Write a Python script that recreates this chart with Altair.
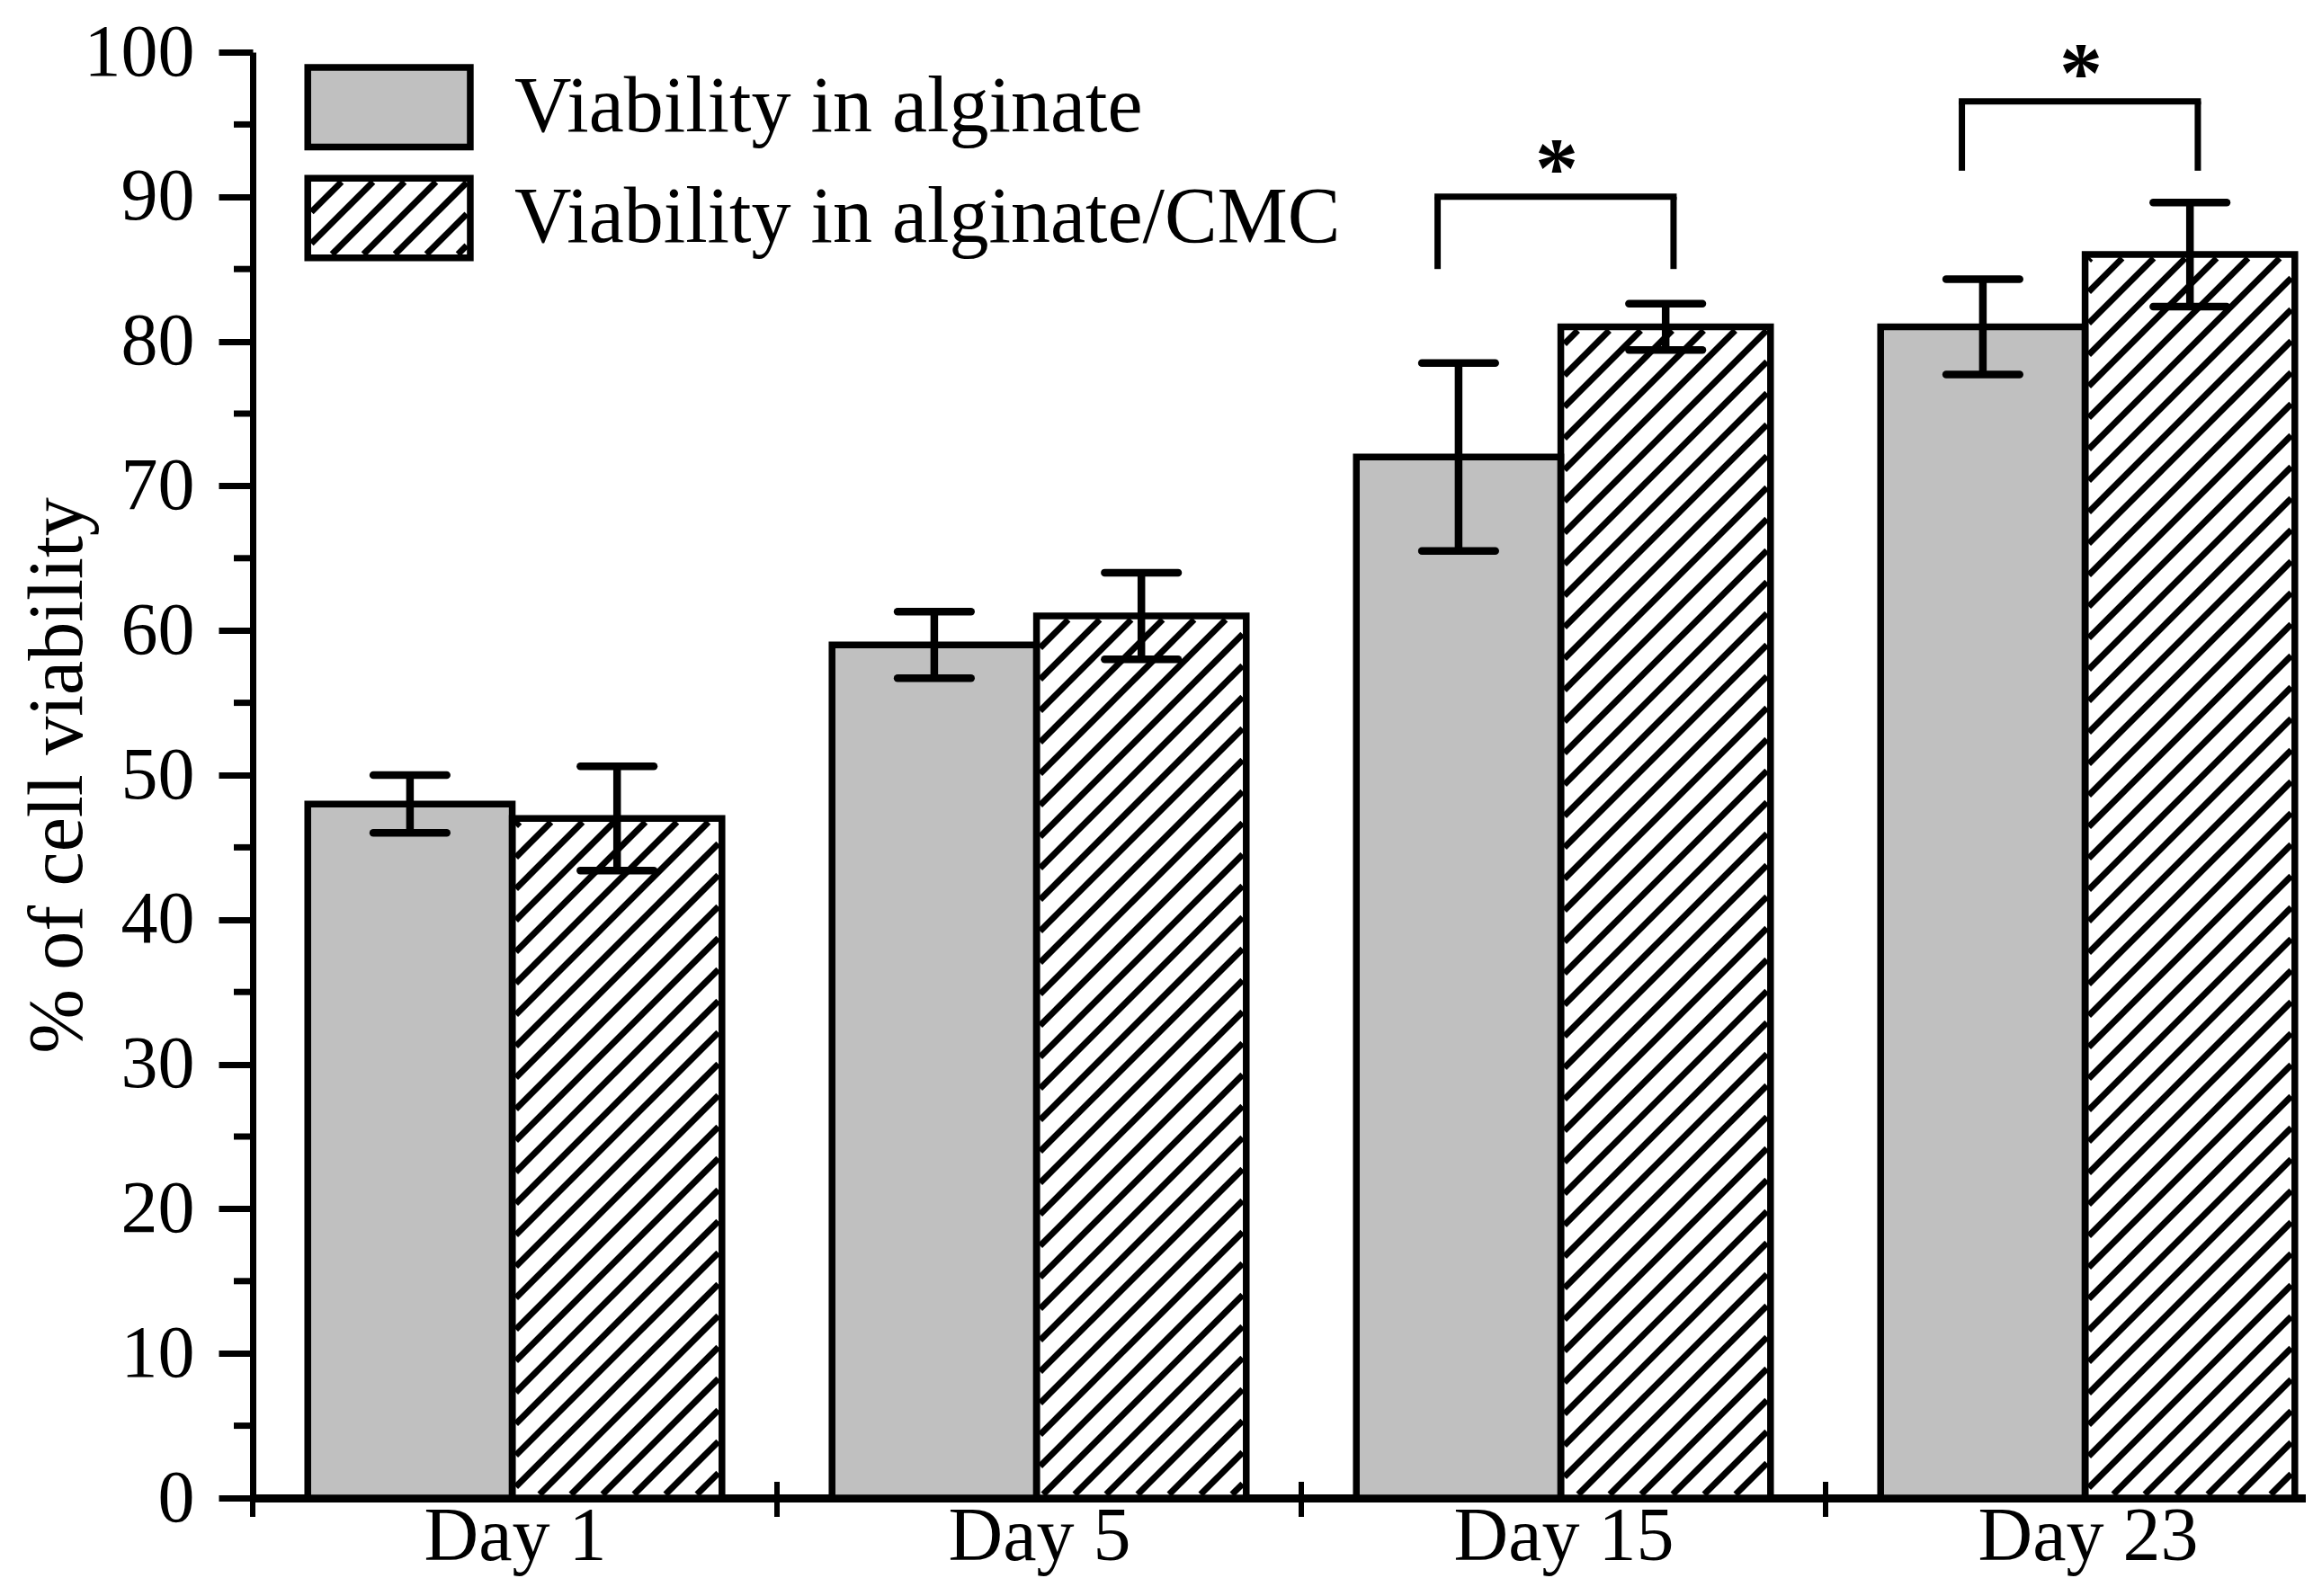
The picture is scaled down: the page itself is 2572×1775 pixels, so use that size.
import altair as alt
import numpy as np
import pandas as pd

# ---------------- data ----------------
days = ["Day 1", "Day 5", "Day 15", "Day 23"]
series = ["Viability in alginate", "Viability in alginate/CMC"]
alg_mean = [48.0, 59.0, 72.0, 81.0]
alg_err = [2.0, 2.3, 6.5, 3.3]
cmc_mean = [47.0, 61.0, 81.0, 86.0]
cmc_err = [3.6, 3.0, 1.6, 3.6]
y_ticks = list(range(0, 101, 10))
y_minor = list(range(5, 100, 10))
sig_days = ["Day 15", "Day 23"]
sig_top = [90.0, 96.6]
sig_leg = [85.0, 91.8]
sig_text = ["*", "*"]

# ---------------- layout / style constants ----------------
FONT = "Liberation Serif"
W, H = 2283, 1608
CAT_PX = 583.0
XMAX = W / CAT_PX
PXY = H / 100.0
OFF_L, OFF_M, OFF_R = 0.105, 0.495, 0.895
CAP = 0.07
BR_L, BR_R, STAR_X = 0.26, 0.71, 0.487
HATCH_SP = 35.0
HATCH_W = 7
EDGE_W = 7.5
GRAY = "#c0c0c0"

xs = alt.Scale(domain=[0, XMAX], nice=False, zero=False)
ys = alt.Scale(domain=[0, 100], nice=False, zero=False)

label_expr = str(days) + "[floor(datum.value)]"
x_axis = alt.Axis(values=[i + 0.5 for i in range(len(days))],
                  labelExpr=label_expr, ticks=False, tickSize=0,
                  domainColor="black", domainWidth=9,
                  labelFont=FONT, labelFontSize=84, labelColor="black",
                  labelPadding=2, labelBaseline="top", labelLimit=0,
                  labelFlush=False, labelOverlap=False, grid=False)
y_axis = alt.Axis(values=y_ticks, format="d", grid=False,
                  tickSize=38, tickWidth=7, tickColor="black",
                  domainColor="black", domainWidth=7,
                  labelFont=FONT, labelFontSize=82, labelColor="black",
                  labelPadding=27, labelFlush=False, labelOverlap=False,
                  labelLimit=0,
                  titleFont=FONT, titleFontSize=86, titleFontWeight="normal",
                  titleColor="black", titleAngle=270, titleAlign="center",
                  titleBaseline="alphabetic", titleX=-191, titleY=H / 2,
                  titleLimit=0)
Y_TITLE = "% of cell viability"


def X(f):
    return alt.X(f, type="quantitative", scale=xs, axis=x_axis, title=None)


def Y(f):
    return alt.Y(f, type="quantitative", scale=ys, axis=y_axis, title=Y_TITLE)


def hatch(x0, x1, y0, y1, inset=4.0):
    X0, X1 = x0 * CAT_PX + inset, x1 * CAT_PX - inset
    Y0, Y1 = y0 * PXY + inset, y1 * PXY - inset
    segs = []
    kmin = int(np.floor((Y0 - X1) / HATCH_SP)) - 1
    kmax = int(np.ceil((Y1 - X0) / HATCH_SP)) + 1
    for k in range(kmin, kmax + 1):
        c = k * HATCH_SP
        lo = max(X0, Y0 - c)
        hi = min(X1, Y1 - c)
        if hi - lo > 2:
            segs.append(dict(hx0=lo / CAT_PX, hy0=(lo + c) / PXY,
                             hx1=hi / CAT_PX, hy1=(hi + c) / PXY))
    return segs


# bars table
rows = []
for i, d in enumerate(days):
    rows.append(dict(day=d, series=series[0], x0=i + OFF_L, x1=i + OFF_M,
                     mean=alg_mean[i], lo=alg_mean[i] - alg_err[i],
                     hi=alg_mean[i] + alg_err[i], base=0.0))
    rows.append(dict(day=d, series=series[1], x0=i + OFF_M, x1=i + OFF_R,
                     mean=cmc_mean[i], lo=cmc_mean[i] - cmc_err[i],
                     hi=cmc_mean[i] + cmc_err[i], base=0.0))
bars = pd.DataFrame(rows)
bars["xc"] = (bars["x0"] + bars["x1"]) / 2

caps = pd.concat([
    pd.DataFrame({"cx0": bars["xc"] - CAP, "cx1": bars["xc"] + CAP, "cy": bars["hi"]}),
    pd.DataFrame({"cx0": bars["xc"] - CAP, "cx1": bars["xc"] + CAP, "cy": bars["lo"]}),
], ignore_index=True)

# legend geometry (data units)
leg = pd.DataFrame({
    "label": series,
    "x0": [0.105, 0.105], "x1": [0.415, 0.415],
    "y0": [93.44, 85.77], "y1": [98.95, 91.28],
    "tx": [0.499, 0.499], "ty": [94.55, 86.88],
})

bar_hatch = []
for _, r in bars[bars["series"] == series[1]].iterrows():
    bar_hatch += hatch(r["x0"], r["x1"], 0.0, r["mean"])
bar_hatch_df = pd.DataFrame(bar_hatch)
lr = leg.iloc[1]
leg_hatch_df = pd.DataFrame(hatch(lr["x0"], lr["x1"], lr["y0"], lr["y1"]))

# significance brackets
sig_rows = []
for d, top, legy, t in zip(sig_days, sig_top, sig_leg, sig_text):
    i = days.index(d)
    sig_rows.append(dict(xl=i + BR_L, xr=i + BR_R, top=top, legy=legy, sx=i + STAR_X, t=t))
sig = pd.DataFrame(sig_rows)

minor_df = pd.DataFrame({"v": y_minor})
bound_df = pd.DataFrame({"b": [float(i) for i in range(len(days))]})

# ---------------- layers ----------------
fills = alt.Chart(bars).mark_rect(strokeWidth=0).encode(
    x=X("x0"), x2="x1:Q", y=Y("mean"), y2="base:Q",
    fill=alt.Fill("series:N", scale=alt.Scale(domain=series, range=[GRAY, "white"]), legend=None),
)

hatch_layer = alt.Chart(bar_hatch_df).mark_rule(color="black", strokeWidth=HATCH_W).encode(
    x=X("hx0"), x2="hx1:Q", y=Y("hy0"), y2="hy1:Q")

outlines = alt.Chart(bars).mark_rect(fill="white", fillOpacity=0, stroke="black",
                                     strokeWidth=EDGE_W).encode(
    x=X("x0"), x2="x1:Q", y=Y("mean"), y2="base:Q")

err_v = alt.Chart(bars).mark_rule(color="black", strokeWidth=8.5).encode(
    x=X("xc"), y=Y("lo"), y2="hi:Q")

err_c = alt.Chart(caps).mark_rule(color="black", strokeWidth=8.5, strokeCap="round").encode(
    x=X("cx0"), x2="cx1:Q", y=Y("cy"))

br_h = alt.Chart(sig).mark_rule(color="black", strokeWidth=7, strokeCap="square").encode(
    x=X("xl"), x2="xr:Q", y=Y("top"))
br_l = alt.Chart(sig).mark_rule(color="black", strokeWidth=7).encode(
    x=X("xl"), y=Y("legy"), y2="top:Q")
br_r = alt.Chart(sig).mark_rule(color="black", strokeWidth=7).encode(
    x=X("xr"), y=Y("legy"), y2="top:Q")
stars = alt.Chart(sig).mark_text(font=FONT, fontSize=96, fontWeight="bold",
                                 color="black", baseline="alphabetic",
                                 align="center").encode(
    x=X("sx"), y=Y("top"), text="t:N")

leg_fill = alt.Chart(leg).mark_rect(strokeWidth=0).encode(
    x=X("x0"), x2="x1:Q", y=Y("y0"), y2="y1:Q",
    fill=alt.Fill("label:N", scale=alt.Scale(domain=series, range=[GRAY, "white"]), legend=None))
leg_hatch = alt.Chart(leg_hatch_df).mark_rule(color="black", strokeWidth=HATCH_W).encode(
    x=X("hx0"), x2="hx1:Q", y=Y("hy0"), y2="hy1:Q")
leg_out = alt.Chart(leg).mark_rect(fill="white", fillOpacity=0, stroke="black",
                                   strokeWidth=EDGE_W).encode(
    x=X("x0"), x2="x1:Q", y=Y("y0"), y2="y1:Q")
leg_text = alt.Chart(leg).mark_text(font=FONT, fontSize=88, color="black",
                                    align="left", baseline="alphabetic").encode(
    x=X("tx"), y=Y("ty"), text="label:N")

minor_ticks = alt.Chart(minor_df).mark_rule(color="black", strokeWidth=7).encode(
    x=alt.value(0), x2=alt.value(-21), y=Y("v"))
bound_ticks = alt.Chart(bound_df).mark_rule(color="black", strokeWidth=6).encode(
    x=X("b"), y=alt.value(H - 18), y2=alt.value(H + 21))

chart = alt.layer(
    fills, hatch_layer, outlines, err_v, err_c, br_h, br_l, br_r, stars,
    leg_fill, leg_hatch, leg_out, leg_text, minor_ticks, bound_ticks,
).properties(
    width=W, height=H,
    autosize=alt.AutoSizeParams(type="none"),
    padding={"left": 273, "top": 50, "right": 0, "bottom": 95},
    background="white",
).configure_view(stroke=None)

chart.save("out.html", embed_options={"renderer": "svg", "actions": False})
